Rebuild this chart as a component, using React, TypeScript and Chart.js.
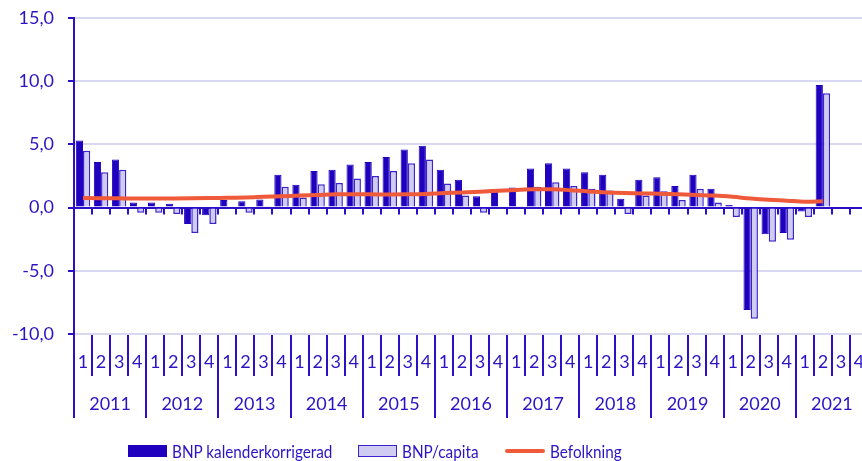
import React, { useEffect, useRef } from "react";
import { Chart, registerables } from "chart.js";

Chart.register(...registerables);

const years = ["2011", "2012", "2013", "2014", "2015", "2016", "2017", "2018", "2019", "2020", "2021"];
const quarters = ["1", "2", "3", "4"];
const categories: string[] = years.flatMap((y) => quarters.map((q) => `${y} K${q}`));

const bnpKalender: (number | null)[] = [
  5.3, 3.6, 3.8, 0.4,
  0.4, 0.3, -1.3, -0.6,
  0.6, 0.5, 0.65, 2.6,
  1.8, 2.9, 3.0, 3.4,
  3.6, 4.0, 4.6, 4.9,
  3.0, 2.2, 0.9, 1.3,
  1.6, 3.1, 3.5, 3.1,
  2.8, 2.6, 0.7, 2.2,
  2.4, 1.7, 2.6, 1.5,
  0.2, -8.1, -2.1, -2.0,
  -0.3, 9.7, null, null,
];

const bnpCapita: (number | null)[] = [
  4.5, 2.8, 3.0, -0.4,
  -0.4, -0.5, -2.0, -1.3,
  -0.1, -0.4, 0.1, 1.65,
  0.8, 1.85, 1.95, 2.3,
  2.5, 2.9, 3.5, 3.8,
  1.9, 0.95, -0.4, -0.1,
  0.1, 1.65, 2.0, 1.7,
  1.5, 1.35, -0.5, 0.95,
  1.3, 0.6, 1.5, 0.4,
  -0.75, -8.8, -2.7, -2.55,
  -0.75, 9.05, null, null,
];

const befolkning: (number | null)[] = [
  0.75, 0.74, 0.73, 0.72,
  0.72, 0.72, 0.73, 0.75,
  0.78, 0.8, 0.85, 0.9,
  0.95, 1.0, 1.05, 1.06,
  1.05, 1.04, 1.05, 1.08,
  1.15, 1.2, 1.26, 1.33,
  1.4, 1.45, 1.45, 1.38,
  1.28, 1.2, 1.15, 1.12,
  1.1, 1.05, 1.0, 0.95,
  0.85, 0.72, 0.62, 0.55,
  0.47, 0.5, null, null,
];

const yTicks = [-10, -5, 0, 5, 10, 15];

const DARK = "#1F00BE";
const LIGHT = "#D0CCF1";
const LIGHT_BORDER = "#3B24CC";
const ORANGE = "#EE5A3A";
const AXIS = "#2A10C8";
const TEXT = "#2A14C4";
const GRID = "#D9D8F2";
const FONT = "Lato";

const bottomAxisPlugin = {
  id: "bottomAxis",
  afterDraw(chart: any) {
    const ctx = chart.ctx;
    const xs = chart.scales.x;
    const ys = chart.scales.y;
    const w = xs.getPixelForValue(1) - xs.getPixelForValue(0);
    const left = xs.getPixelForValue(0) - w / 2;
    const y0 = ys.getPixelForValue(0);
    const yb = ys.getPixelForValue(-10);
    const n = categories.length;
    ctx.save();
    ctx.strokeStyle = AXIS;
    ctx.lineWidth = 2;
    for (let i = 1; i <= n; i++) {
      const bx = Math.round(left + i * w);
      ctx.beginPath();
      ctx.moveTo(bx, y0);
      ctx.lineTo(bx, y0 + 7);
      ctx.stroke();
    }
    for (let i = 0; i <= n; i++) {
      const bx = Math.round(left + i * w);
      ctx.beginPath();
      ctx.moveTo(bx, yb + 1);
      ctx.lineTo(bx, i % 4 === 0 ? yb + 84 : yb + 42);
      ctx.stroke();
    }
    ctx.fillStyle = TEXT;
    ctx.font = `18px ${FONT}`;
    ctx.textAlign = "center";
    ctx.textBaseline = "middle";
    for (let i = 0; i < n; i++) {
      ctx.fillText(quarters[i % 4], xs.getPixelForValue(i), yb + 28);
    }
    years.forEach((yr, k) => {
      const cx = left + (k * 4 + 2) * w;
      ctx.fillText(yr, cx, yb + 70);
    });
    ctx.restore();
  },
};

export default function App() {
  const ref = useRef<HTMLCanvasElement | null>(null);
  useEffect(() => {
    if (!ref.current) return;
    const chart = new Chart(ref.current, {
      type: "bar",
      data: {
        labels: categories,
        datasets: [
          {
            type: "bar",
            label: "BNP kalenderkorrigerad",
            data: bnpKalender,
            backgroundColor: DARK,
            borderColor: DARK,
            borderWidth: 1,
            categoryPercentage: 0.8,
            barPercentage: 1,
            order: 2,
          },
          {
            type: "bar",
            label: "BNP/capita",
            data: bnpCapita,
            backgroundColor: LIGHT,
            borderColor: LIGHT_BORDER,
            borderWidth: 1.5,
            categoryPercentage: 0.8,
            barPercentage: 1,
            order: 2,
          },
          {
            type: "line",
            label: "Befolkning",
            data: befolkning,
            borderColor: ORANGE,
            backgroundColor: ORANGE,
            borderWidth: 4,
            pointRadius: 0,
            cubicInterpolationMode: "monotone",
            fill: false,
            order: 1,
          },
        ] as any,
      },
      options: {
        animation: false,
        responsive: false,
        maintainAspectRatio: false,
        layout: { padding: { left: 0, right: 12, top: 18, bottom: 127 } },
        plugins: { legend: { display: false }, tooltip: { enabled: false } },
        scales: {
          x: { display: false, offset: true },
          y: {
            min: -10,
            max: 15,
            afterBuildTicks: (s: any) => {
              s.ticks = yTicks.map((v) => ({ value: v }));
            },
            afterFit: (s: any) => {
              s.width = 74;
              s.paddingTop = 0;
              s.paddingBottom = 0;
            },
            ticks: {
              color: TEXT,
              font: { family: FONT, size: 18 },
              padding: 14,
              callback: (v: any) => Number(v).toFixed(1).replace(".", ","),
            },
            grid: {
              color: (c: any) => (c.tick && c.tick.value === 0 ? AXIS : GRID),
              lineWidth: 2,
              tickLength: 6,
              tickColor: AXIS,
            },
            border: { display: true, color: AXIS, width: 2 },
          },
        },
      } as any,
      plugins: [bottomAxisPlugin],
    });
    return () => chart.destroy();
  }, []);

  const legendItem = (left: number, marker: React.ReactNode, text: string) => (
    <div
      style={{
        position: "absolute",
        left,
        top: 0,
        height: 22,
        display: "flex",
        alignItems: "center",
        whiteSpace: "nowrap",
      }}
    >
      {marker}
      <span
        style={{
          marginLeft: 5,
          display: "inline-block",
          transform: "scaleX(0.85)",
          transformOrigin: "left center",
        }}
      >
        {text}
      </span>
    </div>
  );

  return (
    <div
      style={{
        position: "fixed",
        left: 0,
        top: 0,
        width: 862,
        height: 461,
        overflow: "hidden",
        background: "#fff",
      }}
    >
      <canvas ref={ref} width={880} height={461} style={{ display: "block", width: 880, height: 461 }} />
      <div
        style={{
          position: "absolute",
          left: 0,
          top: 440,
          width: 862,
          height: 22,
          fontFamily: FONT,
          fontSize: 18,
          color: TEXT,
          lineHeight: "22px",
        }}
      >
        {legendItem(128, <div style={{ width: 39, height: 12, background: DARK }} />, "BNP kalenderkorrigerad")}
        {legendItem(
          358,
          <div style={{ width: 37, height: 10, background: LIGHT, border: `1.5px solid ${LIGHT_BORDER}` }} />,
          "BNP/capita"
        )}
        {legendItem(505, <div style={{ width: 40, height: 4, background: ORANGE, borderRadius: 2 }} />, "Befolkning")}
      </div>
    </div>
  );
}
